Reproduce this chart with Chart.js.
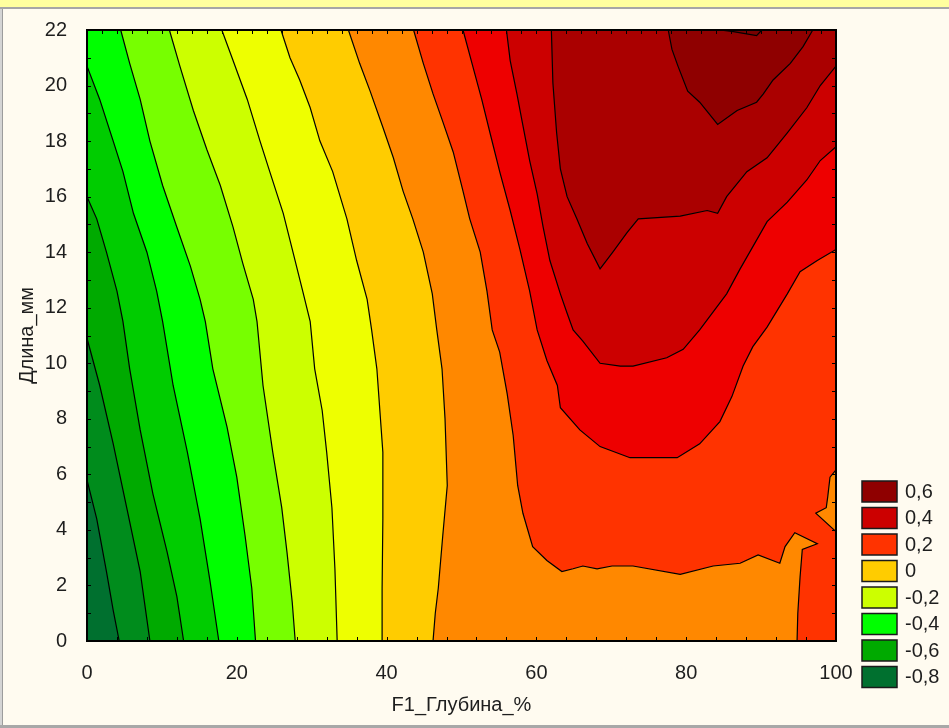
<!DOCTYPE html>
<html lang="ru">
<head>
<meta charset="utf-8">
<title>F1_Глубина_% / Длина_мм</title>
<script src="https://cdn.jsdelivr.net/npm/chart.js@4.4.1/dist/chart.umd.min.js"></script>
<style>
  html, body { margin: 0; padding: 0; }
  body { width: 949px; height: 728px; background: #fffbf0; position: relative; overflow: hidden; }
  #bar { position: absolute; left: 0; top: 0; width: 949px; height: 7px; background: #ffff9f; border-bottom: 2px solid #a6a6a6; }
  #leftEdge { position: absolute; left: 0; top: 9px; width: 2px; height: 716px; background: #d4d4d4; border-right: 1px solid #9c9c9c; }
  #bottomEdge { position: absolute; left: 0; top: 725px; width: 949px; height: 3px; background: #a8a8a8; }
  #wrap { position: absolute; left: 0; top: 0; width: 949px; height: 728px; }
</style>
</head>
<body>
<div id="bar"></div>
<div id="leftEdge"></div>
<div id="bottomEdge"></div>
<div id="wrap"><canvas id="contour"></canvas></div>
<script>
// axis ranges and labels
const xMin = 0, xMax = 100, yMin = 0, yMax = 22;
const xTitle = 'F1_Глубина_%';
const yTitle = 'Длина_мм';

// isoline values, lowest first
const levels = [-0.8, -0.7, -0.6, -0.5, -0.4, -0.3, -0.2, -0.1, 0, 0.1, 0.2, 0.3, 0.4, 0.5, 0.6];
// band fill colours: bandColors[0] is <= -0.8, bandColors[15] is > 0.6
const bandColors = ['#00702f', '#008c1c', '#00aa00', '#00cc00', '#00ff00', '#77ff00', '#ccff00', '#eeff00',
                    '#ffcc00', '#ff8800', '#ff3300', '#ee0000', '#cc0000', '#aa0000', '#8f0000', '#7a0000'];
const legendValues = [0.6, 0.4, 0.2, 0, -0.2, -0.4, -0.6, -0.8];

// isolines as [x, y] points, each starting and ending on the frame
const isoM08 = [[0, 5.8], [1.3, 4.4], [2.6, 2.5], [3.5, 1.1], [4.3, 0]];
const isoM07 = [[0, 10.9], [1.7, 9.2], [3.5, 7.1], [5.3, 4.8], [7.1, 2.5], [8.4, 0]];
const isoM06 = [[0, 16], [1.3, 15.2], [2.6, 14], [4.0, 12.6], [4.8, 11.5], [5.7, 9.8], [7.1, 7.6], [8.8, 5.3],
                [10.7, 3.2], [12.0, 1.6], [12.9, 0]];
const isoM05 = [[0, 20.7], [1.7, 19.5], [3.5, 18], [4.8, 16.9], [6.2, 15.4], [8.0, 14], [9.3, 12.6], [10.1, 11.5],
                [11.5, 9.2], [13.4, 6.8], [15.1, 4.4], [16.4, 2.2], [17.6, 0]];
const isoM04 = [[4.5, 22], [5.7, 20.8], [7.1, 19.5], [8.4, 18], [10.1, 16.4], [12, 14.9], [13.8, 13.5], [15.1, 12.3],
                [15.8, 11.5], [16.8, 9.8], [18.7, 7.7], [20, 5.9], [21.1, 3.8], [22, 1.9], [22.5, 0]];
const isoM03 = [[11, 22], [12.4, 20.7], [14.2, 19.1], [16, 17.7], [17.8, 16.4], [19.5, 14.9], [20.8, 13.6], [22.2, 12.3],
                [22.7, 11.5], [23.5, 9.2], [24.8, 6.8], [26, 4.8], [26.7, 3.2], [27.4, 1.4], [27.8, 0]];
const isoM02 = [[18, 22], [19.5, 20.9], [21.4, 19.5], [23.1, 18], [24.4, 16.9], [26.2, 15.4], [27.5, 14], [28.8, 12.6],
                [29.8, 11.5], [30.4, 9.8], [31.4, 8.3], [32, 6.8], [32.7, 4.8], [33.1, 2.6], [33.4, 0]];
const isoM01 = [[25.9, 22], [27.1, 21], [28.4, 20.2], [29.8, 19.2], [31.1, 18], [32.8, 16.9], [34.7, 15.2], [36, 13.7],
                [37.4, 12.3], [38, 11.2], [38.7, 9.8], [39.1, 8.3], [39.5, 6.8], [39.5, 4.4], [39.4, 1.9], [39.4, 0]];
const iso00 = [[34.9, 22], [36.4, 20.8], [37.8, 19.8], [39.5, 18.5], [40.9, 17.4], [42.2, 16.2], [43.5, 15.2], [44.9, 14],
               [46.1, 12.5], [46.7, 11.2], [47.4, 9.8], [47.8, 8], [48.1, 5.6], [47.5, 3.8], [46.9, 1.9], [46.5, 1], [46.2, 0]];
const isoP01 = [[43.6, 22], [44.9, 20.8], [46.2, 19.7], [47.5, 18.7], [48.9, 17.6], [50.2, 16.2], [51.1, 15.2], [52.5, 14],
                [53.4, 12.6], [54.1, 11.2], [55.1, 10.4], [56.1, 8.9], [56.9, 7.4], [57.5, 5.6], [58.2, 4.6], [59.5, 3.4],
                [61.4, 2.9], [63.4, 2.5], [64.9, 2.6], [66.2, 2.7], [68.1, 2.6], [70.1, 2.7], [72.9, 2.7], [79.2, 2.4],
                [83.6, 2.7], [87.2, 2.8], [89.6, 3.1], [92.5, 2.8], [93.2, 3.4], [94.5, 3.9], [97.5, 3.5], [95.5, 3.3],
                [95.2, 2.3], [94.9, 1], [94.8, 0]];
// small closed pocket of the 0.1 isoline on the right edge (values below 0.1 inside)
const isoP01Pocket = [[100, 6.16], [99.2, 5.9], [98.9, 5.2], [98.7, 4.8], [97.3, 4.6], [100, 3.94]];
const isoP02 = [[50.2, 22], [51.5, 20.7], [52.7, 19.5], [53.8, 18.3], [55.1, 16.9], [56.5, 15.5], [57.8, 14.1], [59.1, 12.6],
                [60.1, 11.2], [61.4, 10.1], [62.8, 9.2], [63.2, 8.4], [65.8, 7.6], [68.5, 7], [72.5, 6.6], [78.8, 6.6],
                [81.8, 7.1], [84.5, 7.9], [86.1, 8.8], [87.6, 9.9], [88.9, 10.6], [90.8, 11.3], [93.5, 12.5], [95.2, 13.3],
                [97.5, 13.7], [100, 14.1]];
const isoP03 = [[56, 22], [56.5, 20.9], [57.4, 19.7], [58.1, 18.7], [59.1, 17.3], [60.1, 16.1], [60.9, 14.9], [61.8, 13.7],
                [63.2, 12.5], [64.1, 11.8], [64.9, 11.2], [66.2, 10.8], [68.5, 10], [71.2, 9.9], [72.9, 9.9], [77.4, 10.2],
                [79.6, 10.5], [81.8, 11.2], [85.4, 12.5], [87.2, 13.4], [88.9, 14.2], [90.8, 15.1], [93.5, 15.8], [96.1, 16.6],
                [97.9, 17.3], [100, 17.8]];
const isoP04 = [[62, 22], [62.2, 20.1], [62.7, 18.3], [63.2, 17], [64.1, 16], [65.4, 15.2], [66.8, 14.3], [68.5, 13.4],
                [70.2, 14], [72.1, 14.7], [73.6, 15.2], [79.2, 15.3], [82.8, 15.5], [84.2, 15.4], [85.4, 16], [88.1, 16.9],
                [90.8, 17.4], [93.5, 18.3], [96.1, 19.2], [97.9, 20], [100, 20.7]];
const isoP05 = [[77.6, 22], [78.1, 21.3], [78.9, 20.7], [80.2, 19.8], [81.8, 19.4], [84.2, 18.6], [86.8, 19.1], [89.4, 19.4],
                [90.3, 19.7], [91.6, 20.2], [93.9, 20.8], [95.6, 21.4], [96.9, 22]];
const isoP06 = [[84.5, 22], [86.3, 21.94], [89.4, 21.8], [90.1, 22]];

const isolines = [isoM08, isoM07, isoM06, isoM05, isoM04, isoM03, isoM02, isoM01, iso00,
                  isoP01, isoP02, isoP03, isoP04, isoP05, isoP06];

// position along the frame, counter-clockwise from the bottom-left corner (0..400)
function framePos([x, y]) {
  if (y === yMin) return (x - xMin) / (xMax - xMin) * 100;
  if (x === xMax) return 100 + (y - yMin) / (yMax - yMin) * 100;
  if (y === yMax) return 200 + (xMax - x) / (xMax - xMin) * 100;
  return 300 + (yMax - y) / (yMax - yMin) * 100;
}
const frameCorners = [[100, [xMax, yMin]], [200, [xMax, yMax]], [300, [xMin, yMax]], [400, [xMin, yMin]]];

// close an isoline into the region above its level by walking the frame
function closeAlongFrame(pts) {
  const tEnd = framePos(pts[pts.length - 1]);
  let tStart = framePos(pts[0]);
  if (tStart <= tEnd) tStart += 400;
  const out = [];
  [...frameCorners, ...frameCorners.map(([t, p]) => [t + 400, p])].forEach(([t, p]) => {
    if (t > tEnd && t < tStart) out.push(p);
  });
  return pts.concat(out);
}

const toXY = pts => pts.map(([x, y]) => ({x, y}));
// a dash list keeps Chart.js on the exact path (no per-pixel point merging)
const shapeStyle = {
  fill: 'shape', pointRadius: 0, borderColor: '#000', borderWidth: 1.2,
  borderDash: [10000, 0], tension: 0, clip: false
};

const datasets = [{
  ...shapeStyle,
  label: '<= ' + levels[0],
  data: toXY([[xMin, yMin], [xMax, yMin], [xMax, yMax], [xMin, yMax]]),
  backgroundColor: bandColors[0],
  borderWidth: 0,
  order: 1000
}];
isolines.forEach((pts, i) => {
  datasets.push({
    ...shapeStyle,
    label: '> ' + levels[i],
    data: toXY(closeAlongFrame(pts)),
    backgroundColor: bandColors[i + 1],
    order: 999 - 2 * i
  });
});
const pocketLevel = levels.indexOf(0.1);
datasets.push({
  ...shapeStyle,
  label: '<= 0.1',
  data: toXY(isoP01Pocket),
  backgroundColor: bandColors[pocketLevel],
  order: 999 - 2 * pocketLevel - 1
});

// inward tick marks on all four sides plus the plot frame
const frameTicks = {
  id: 'frameTicks',
  afterDatasetsDraw(chart) {
    const {ctx, chartArea: a, scales: {x, y}} = chart;
    const len = 4;
    ctx.save();
    ctx.strokeStyle = '#000';
    ctx.lineWidth = 1;
    ctx.beginPath();
    for (let v = xMin; v <= xMax; v += 4) {
      const p = Math.round(x.getPixelForValue(v)) + 0.5;
      ctx.moveTo(p, a.bottom); ctx.lineTo(p, a.bottom - len);
    }
    for (let v = xMin; v <= xMax; v += 2) {
      const p = Math.round(x.getPixelForValue(v)) + 0.5;
      ctx.moveTo(p, a.top); ctx.lineTo(p, a.top + len);
    }
    for (let v = yMin; v <= yMax; v += 1) {
      const p = Math.round(y.getPixelForValue(v)) + 0.5;
      ctx.moveTo(a.left, p); ctx.lineTo(a.left + len, p);
      ctx.moveTo(a.right, p); ctx.lineTo(a.right - len, p);
    }
    ctx.stroke();
    ctx.lineWidth = 2;
    ctx.strokeRect(a.left, a.top, a.right - a.left, a.bottom - a.top);
    ctx.restore();
  }
};

// colour key to the right of the plot
const bandLegend = {
  id: 'bandLegend',
  afterDraw(chart) {
    const {ctx, chartArea: a} = chart;
    const x0 = a.right + 26, top0 = a.bottom - 160, rowH = 26.5;
    ctx.save();
    ctx.font = '20px "Liberation Sans", Arial, sans-serif';
    ctx.textBaseline = 'middle';
    legendValues.forEach((v, i) => {
      const yTop = top0 + i * rowH;
      ctx.fillStyle = bandColors[levels.indexOf(v)];
      ctx.fillRect(x0, yTop, 35, 21);
      ctx.strokeStyle = '#1a1a1a';
      ctx.lineWidth = 1.5;
      ctx.strokeRect(x0, yTop, 35, 21);
      ctx.fillStyle = '#1e1e1e';
      ctx.fillText(String(v).replace('.', ','), x0 + 43, yTop + 11);
    });
    ctx.restore();
  }
};

Chart.defaults.font.family = '"Liberation Sans", Arial, sans-serif';
Chart.defaults.color = '#1e1e1e';

new Chart(document.getElementById('contour'), {
  type: 'line',
  data: { datasets },
  options: {
    responsive: true,
    maintainAspectRatio: false,
    animation: false,
    events: [],
    layout: { padding: { top: 30, right: 113, bottom: 0, left: 0 } },
    scales: {
      x: {
        type: 'linear',
        min: xMin,
        max: xMax,
        grid: { display: false },
        border: { display: false },
        ticks: { stepSize: 20, padding: 12, font: { size: 20 }, maxRotation: 0 },
        title: { display: true, text: xTitle, font: { size: 20 }, padding: { top: 0, bottom: 11 } },
        afterFit: scale => { scale.height = 87; }
      },
      y: {
        type: 'linear',
        min: yMin,
        max: yMax,
        grid: { display: false },
        border: { display: false },
        ticks: { stepSize: 2, padding: 12, font: { size: 20 } },
        title: { display: true, text: yTitle, font: { size: 20 }, padding: { top: 15.5, bottom: 0 } },
        afterFit: scale => { scale.width = 87; }
      }
    },
    plugins: {
      legend: { display: false },
      tooltip: { enabled: false }
    }
  },
  plugins: [frameTicks, bandLegend]
});
</script>
</body>
</html>
